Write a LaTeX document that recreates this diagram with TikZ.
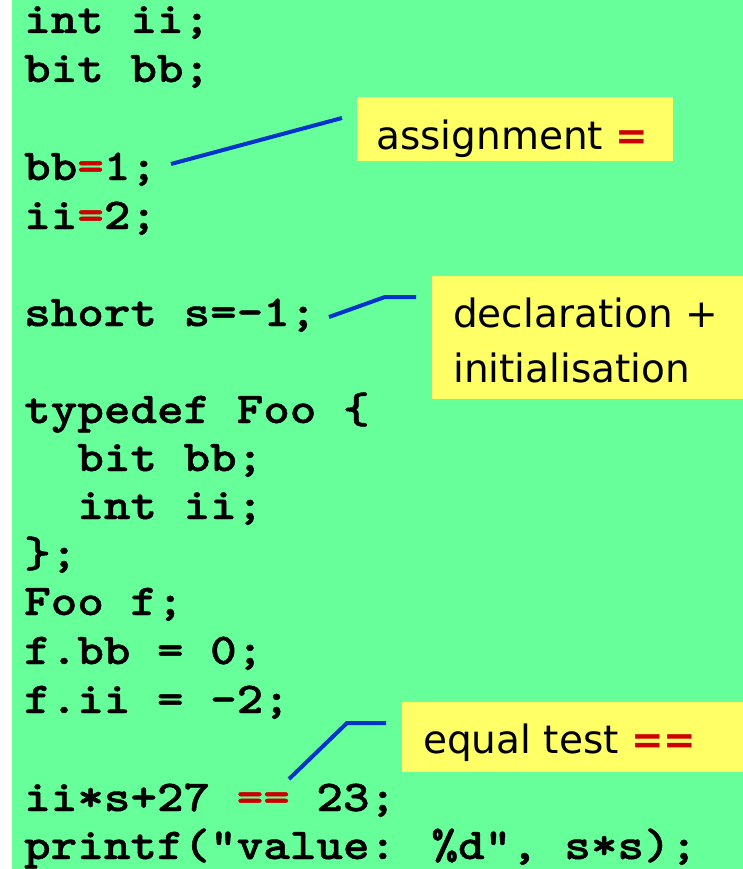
\documentclass[tikz,border=0pt]{standalone}
\usepackage{fontspec}
\newfontfamily\codefont{lmmonolt10-bold}[Extension=.otf, FakeStretch=1.15, FakeBold=1]
\newfontfamily\notefont{DejaVu Sans}
\definecolor{bggreen}{HTML}{66FF99}
\definecolor{noteyellow}{HTML}{FFFF66}
\definecolor{eqred}{HTML}{CC0000}
\definecolor{lineblue}{HTML}{0033CC}
\newcommand{\req}{\textcolor{eqred}{=}}
\tikzset{
  codeline/.style={anchor=base west, inner sep=0pt, font=\fontsize{44}{48}\selectfont\codefont},
  notebox/.style={fill=noteyellow, draw=none, inner sep=0pt},
  notetext/.style={anchor=base west, inner sep=0pt, font=\fontsize{39}{55}\selectfont\notefont},
  leader/.style={draw=lineblue, line width=4pt}
}
\begin{document}
\begin{tikzpicture}[x=1pt,y=-1pt]
\useasboundingbox (0,0) rectangle (743,869);
\fill[white] (0,0) rectangle (12,869);
\fill[bggreen] (12,0) rectangle (743,869);
% code
\node[codeline] (c1) at (24,33) {int ii;};
\node[codeline] (c2) at (24,82) {bit bb;};
\node[codeline] (c4) at (24,180) {bb\req1;};
\node[codeline] (c5) at (24,229) {ii\req2;};
\node[codeline] (c7) at (24,326) {short s=-1;};
\node[codeline] (c9) at (24,423) {typedef Foo \{};
\node[codeline] (c10) at (24,471) {\ \ bit bb;};
\node[codeline] (c11) at (24,519) {\ \ int ii;};
\node[codeline] (c12) at (24,567) {\};};
\node[codeline] (c13) at (24,615) {Foo f;};
\node[codeline] (c14) at (24,664) {f.bb = 0;};
\node[codeline] (c15) at (24,713) {f.ii = -2;};
\node[codeline] (c17) at (24,811) {ii*s+27 \textcolor{eqred}{==} 23;};
\node[codeline] (c18) at (24,859) {printf(“value: \%d”, s*s);};
% note boxes
\node[notebox, minimum width=316pt, minimum height=64pt, anchor=north west] (b1) at (357,97) {};
\node[notebox, minimum width=311pt, minimum height=123pt, anchor=north west] (b2) at (432,276) {};
\node[notebox, minimum width=341pt, minimum height=70pt, anchor=north west] (b3) at (402,702) {};
\node[notetext] (t1) at (376,150) {assignment \textcolor{eqred}{\bfseries =}};
\node[notetext] (t2) at (453,327) {declaration +};
\node[notetext] (t2b) at (453,382) {initialisation};
\node[notetext] (t3) at (423,753) {equal test \textcolor{eqred}{\bfseries ==}};
% leaders
\coordinate (l1a) at (171,164);
\coordinate (l1b) at (342,118);
\coordinate (l2a) at (329,317);
\coordinate (l2m) at (385,297);
\coordinate (l2b) at (416,297);
\coordinate (l3a) at (289,779);
\coordinate (l3m) at (347,723);
\coordinate (l3b) at (386,723);
\draw[leader] (l1a) -- (l1b);
\draw[leader] (l2a) -- (l2m) -- (l2b);
\draw[leader] (l3a) -- (l3m) -- (l3b);
\end{tikzpicture}
\end{document}
